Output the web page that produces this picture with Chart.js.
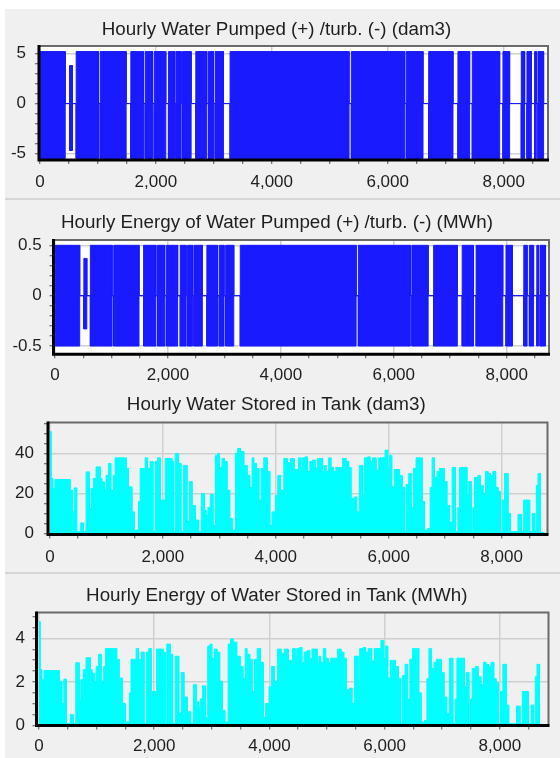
<!DOCTYPE html>
<html>
<head>
<meta charset="utf-8">
<script src="https://cdn.jsdelivr.net/npm/chart.js@4.4.1/dist/chart.umd.min.js"></script>
<style>
  html, body { margin: 0; padding: 0; background: #fff; }
  body { width: 560px; height: 758px; position: relative; overflow: hidden; }
  .panel { position: absolute; left: 5px; width: 555px; background: #f0f0f0; }
  .panel canvas { position: absolute; left: 0; top: 0; }
  .sep { position: absolute; left: 5px; width: 555px; height: 2px; background: #d6d6d6; }
</style>
</head>
<body>
<div class="panel" style="top:9px;height:189px"><canvas id="c1" width="555" height="189"></canvas></div>
<div class="sep" style="top:198px"></div>
<div class="panel" style="top:200px;height:190px"><canvas id="c2" width="555" height="190"></canvas></div>
<div class="panel" style="top:390px;height:182px"><canvas id="c3" width="555" height="182"></canvas></div>
<div class="sep" style="top:572px"></div>
<div class="panel" style="top:574px;height:184px"><canvas id="c4" width="555" height="184"></canvas></div>
<script>
// hours where the pump / turbine regime changes (value holds until the next hour)
const pumpHours = [0, 437, 511, 563, 626, 1011, 1040, 1488, 1569, 1787,
  1816, 1942, 1971, 2172, 2218, 2322, 2345, 2437, 2460, 2609,
  2690, 2879, 2908, 2994, 3023, 3166, 3281, 5333, 5373, 6293,
  6321, 6609, 6707, 7126, 7212, 7413, 7459, 7931, 7988, 8103,
  8304, 8362, 8402, 8477, 8534, 8563, 8591, 8689, 8760];
// upper / lower envelope of the hourly swings
const pumpDam3High = [5.2, 0, 3.8, 0, 5.2, 0, 5.2, 0, 5.2, 0,
  5.2, 0, 5.2, 0, 5.2, 0, 5.2, 0, 5.2, 0,
  5.2, 0, 5.2, 0, 5.2, 0, 5.2, 0, 5.2, 0,
  5.2, 0, 5.2, 0, 5.2, 0, 5.2, 0, 5.2, 0,
  5.2, 0, 5.2, 0, 5.2, 0, 5.2, 0, 0];
const pumpDam3Low = [-5.5, 0, -4.7, 0, -5.5, 0, -5.5, 0, -5.5, 0,
  -5.5, 0, -5.5, 0, -5.5, 0, -5.5, 0, -5.5, 0,
  -5.5, 0, -5.5, 0, -5.5, 0, -5.5, 0, -5.5, 0,
  -5.5, 0, -5.5, 0, -5.5, 0, -5.5, 0, -5.5, 0,
  -5.5, 0, -5.5, 0, -5.5, 0, -5.5, 0, 0];
const pumpMWhHigh = [0.5, 0, 0.37, 0, 0.5, 0, 0.5, 0, 0.5, 0,
  0.5, 0, 0.5, 0, 0.5, 0, 0.5, 0, 0.5, 0,
  0.5, 0, 0.5, 0, 0.5, 0, 0.5, 0, 0.5, 0,
  0.5, 0, 0.5, 0, 0.5, 0, 0.5, 0, 0.5, 0,
  0.5, 0, 0.5, 0, 0.5, 0, 0.5, 0, 0];
const pumpMWhLow = [-0.5, 0, -0.33, 0, -0.5, 0, -0.5, 0, -0.5, 0,
  -0.5, 0, -0.5, 0, -0.5, 0, -0.5, 0, -0.5, 0,
  -0.5, 0, -0.5, 0, -0.5, 0, -0.5, 0, -0.5, 0,
  -0.5, 0, -0.5, 0, -0.5, 0, -0.5, 0, -0.5, 0,
  -0.5, 0, -0.5, 0, -0.5, 0, -0.5, 0, 0];

// tank contents
const storedHours = [0, 18, 47, 89, 355, 396, 432, 473, 544, 592,
  639, 698, 728, 769, 817, 888, 917, 959, 994, 1035,
  1077, 1124, 1154, 1349, 1390, 1450, 1497, 1568, 1598, 1686,
  1728, 1775, 1822, 1864, 1905, 1953, 2041, 2160, 2189, 2219,
  2278, 2319, 2367, 2426, 2473, 2515, 2574, 2633, 2680, 2734,
  2763, 2799, 2840, 2888, 2929, 2970, 3000, 3047, 3089, 3136,
  3183, 3225, 3284, 3325, 3373, 3432, 3491, 3538, 3580, 3609,
  3657, 3698, 3740, 3787, 3846, 3893, 3935, 3994, 4035, 4083,
  4142, 4201, 4260, 4326, 4403, 4444, 4474, 4521, 4562, 4604,
  4651, 4698, 4740, 4829, 4858, 4888, 4935, 4976, 5018, 5065,
  5184, 5243, 5290, 5331, 5391, 5432, 5479, 5539, 5568, 5627,
  5669, 5716, 5775, 5823, 5935, 5982, 6012, 6053, 6101, 6189,
  6237, 6278, 6308, 6355, 6397, 6438, 6485, 6592, 6633, 6692,
  6734, 6769, 6811, 6858, 6899, 6988, 7030, 7077, 7124, 7183,
  7225, 7255, 7385, 7420, 7462, 7491, 7521, 7580, 7621, 7669,
  7716, 7757, 7799, 7846, 7894, 7935, 7976, 8012, 8053, 8112,
  8154, 8290, 8349, 8391, 8497, 8544, 8586, 8615, 8645, 8686,
  8760];
const storedDam3 = [51, 27.5, 22.5, 27, 21.7, 10.8, 22.8, 1, 5.3, 1,
  30.8, 12.5, 22.5, 27.5, 33.3, 27.5, 25.8, 21.7, 29, 35,
  21.7, 29, 37.8, 32.5, 23.3, 10.8, 1.7, 16, 32.5, 37.8,
  32.5, 36, 1, 36, 37.8, 16.7, 37.5, 36, 1, 40,
  35, 1, 34, 6, 26, 14, 6.7, 1, 20, 11.7,
  9, 13, 19.5, 4, 39, 40, 33, 37.5, 36, 21.7,
  7.5, 1.7, 40, 42.5, 41, 34, 29, 23, 37.8, 35,
  32.5, 16.7, 32.5, 37.8, 31, 4, 10.8, 19, 29, 21.7,
  37.5, 35.5, 37.5, 32, 37.8, 33, 37.8, 38.3, 31, 36,
  36.7, 32.8, 37.5, 31, 34, 31, 37.8, 33, 31, 33,
  37.5, 36, 33, 17.5, 18.3, 10.8, 34, 19, 37.8, 38.3,
  36, 37.8, 31.7, 37.8, 41.7, 33, 39, 23.3, 32, 29,
  23, 1, 24.5, 30, 13, 32.5, 37.8, 16, 1.7, 2.5,
  23, 37.8, 28, 31, 32.5, 26, 14, 5.8, 33, 1,
  13, 33, 19, 26, 1, 13, 28, 29, 24, 20,
  31, 30, 29, 31, 23, 21, 1, 16.7, 30, 10,
  1, 9.5, 1, 16.7, 1, 10, 1, 24, 30, 0.5,
  0.5];
const storedMWh = [4.77, 2.57, 2.10, 2.52, 2.03, 1.01, 2.13, 0.09, 0.50, 0.09,
  2.88, 1.17, 2.10, 2.57, 3.11, 2.57, 2.41, 2.03, 2.71, 3.27,
  2.03, 2.71, 3.53, 3.04, 2.18, 1.01, 0.16, 1.50, 3.04, 3.53,
  3.04, 3.37, 0.09, 3.37, 3.53, 1.56, 3.51, 3.37, 0.09, 3.74,
  3.27, 0.09, 3.18, 0.56, 2.43, 1.31, 0.63, 0.09, 1.87, 1.09,
  0.84, 1.22, 1.82, 0.37, 3.65, 3.74, 3.09, 3.51, 3.37, 2.03,
  0.70, 0.16, 3.74, 3.97, 3.83, 3.18, 2.71, 2.15, 3.53, 3.27,
  3.04, 1.56, 3.04, 3.53, 2.90, 0.37, 1.01, 1.78, 2.71, 2.03,
  3.51, 3.32, 3.51, 2.99, 3.53, 3.09, 3.53, 3.58, 2.90, 3.37,
  3.43, 3.07, 3.51, 2.90, 3.18, 2.90, 3.53, 3.09, 2.90, 3.09,
  3.51, 3.37, 3.09, 1.64, 1.71, 1.01, 3.18, 1.78, 3.53, 3.58,
  3.37, 3.53, 2.96, 3.53, 3.90, 3.09, 3.65, 2.18, 2.99, 2.71,
  2.15, 0.09, 2.29, 2.81, 1.22, 3.04, 3.53, 1.50, 0.16, 0.23,
  2.15, 3.53, 2.62, 2.90, 3.04, 2.43, 1.31, 0.54, 3.09, 0.09,
  1.22, 3.09, 1.78, 2.43, 0.09, 1.22, 2.62, 2.71, 2.24, 1.87,
  2.90, 2.81, 2.71, 2.90, 2.15, 1.96, 0.09, 1.56, 2.81, 0.94,
  0.09, 0.89, 0.09, 1.56, 0.09, 0.94, 0.09, 2.24, 2.81, 0.05,
  0.05];

// x axis: tick marks every 500 h, labels every 2000 h
const xTickHours = [0, 500, 1000, 1500, 2000, 2500, 3000, 3500, 4000, 4500,
  5000, 5500, 6000, 6500, 7000, 7500, 8000, 8500];
const xLabelHours = [0, 2000, 4000, 6000, 8000];
const pumpLabels = [-5, 0, 5];
const energyLabels = [-0.5, 0, 0.5];
const waterLabels = [0, 20, 40];
const tankEnergyLabels = [0, 2, 4];

const BLUE = '#1a1aff';
const CYAN = '#00ffff';
const TEXT = '#1e1e1e';
const GRID = '#cfcfcf';
const FONT = '"Liberation Sans", Arial, sans-serif';
const X_AXIS_H = 32;

// value i holds from hour i to hour i+1
function stepPts(xs, ys) {
  const out = [];
  for (let i = 0; i < xs.length; i++) {
    out.push({ x: xs[i], y: ys[i] });
    if (i + 1 < xs.length) out.push({ x: xs[i + 1], y: ys[i] });
  }
  return out;
}

// plot background + frame (black left/bottom axis, grey top/right)
const framePlugin = {
  id: 'frame',
  beforeDraw(chart, args, opts) {
    const { ctx, chartArea: a } = chart;
    ctx.save();
    ctx.fillStyle = opts.bg;
    ctx.fillRect(a.left, a.top, a.right - a.left, a.bottom - a.top);
    ctx.restore();
  },
  afterDraw(chart) {
    const { ctx, chartArea: a } = chart;
    ctx.save();
    ctx.strokeStyle = '#6a6a6a';
    ctx.lineWidth = 2;
    ctx.beginPath();
    ctx.moveTo(a.left, a.top);
    ctx.lineTo(a.right, a.top);
    ctx.lineTo(a.right, a.bottom);
    ctx.stroke();
    ctx.strokeStyle = '#000';
    ctx.lineWidth = 3;
    ctx.beginPath();
    ctx.moveTo(a.left, a.top - 1);
    ctx.lineTo(a.left, a.bottom);
    ctx.lineTo(a.right + 1, a.bottom);
    ctx.stroke();
    ctx.restore();
  }
};

function buildChart(p) {
  const canvas = document.getElementById(p.id);
  const W = canvas.width, H = canvas.height;
  const isLabel = v => p.yLabels.some(l => Math.abs(l - v) < 1e-6);
  const fmtY = v => (Math.abs(v) < 1e-9 ? '0' : String(+v.toFixed(1)));
  const fmtX = v => String(v).replace(/\B(?=(\d{3})+(?!\d))/g, ',');
  const isXLabel = v => xLabelHours.indexOf(v) !== -1;

  return new Chart(canvas, {
    type: 'line',
    data: { datasets: p.datasets },
    options: {
      responsive: false,
      animation: false,
      devicePixelRatio: 1,
      events: [],
      layout: {
        padding: { left: 0, top: 0, right: W - p.area.right, bottom: H - p.area.bottom - X_AXIS_H }
      },
      elements: {
        point: { radius: 0 },
        line: { tension: 0, borderWidth: 1 }
      },
      plugins: {
        legend: { display: false },
        tooltip: { enabled: false },
        title: {
          display: true,
          text: p.title,
          color: TEXT,
          font: { family: FONT, size: 18.8, weight: 'normal', lineHeight: 1.2 },
          padding: p.titlePad
        },
        frame: { bg: p.bg }
      },
      scales: {
        x: {
          type: 'linear',
          min: p.xMin,
          max: p.xMax,
          afterBuildTicks: s => { s.ticks = xTickHours.map(v => ({ value: v })); },
          afterFit: s => { s.height = X_AXIS_H; },
          border: { display: false },
          grid: {
            color: c => (c.tick && isXLabel(c.tick.value)) ? GRID : 'rgba(0,0,0,0)',
            lineWidth: 1.5,
            tickLength: 4,
            tickColor: '#505050',
            tickWidth: 1
          },
          ticks: {
            autoSkip: false,
            maxRotation: 0,
            padding: p.xPad,
            color: TEXT,
            font: { family: FONT, size: 17 },
            callback: v => (isXLabel(v) ? fmtX(v) : '')
          }
        },
        y: {
          min: p.yMin,
          max: p.yMax,
          afterFit: s => { s.width = p.area.left; },
          border: { display: false },
          grid: {
            color: c => (c.tick && isLabel(c.tick.value)) ? GRID : 'rgba(0,0,0,0)',
            lineWidth: 1.5,
            tickLength: 4,
            tickColor: '#505050',
            tickWidth: 1
          },
          ticks: {
            stepSize: p.yStep,
            autoSkip: false,
            includeBounds: false,
            padding: p.yPad,
            color: TEXT,
            font: { family: FONT, size: 17 },
            callback: v => (isLabel(v) ? fmtY(v) : '')
          }
        }
      }
    },
    plugins: [framePlugin]
  });
}

buildChart({
  id: 'c1',
  title: 'Hourly Water Pumped (+) /turb. (-) (dam3)',
  area: { left: 34, right: 543, top: 37, bottom: 151 },
  titlePad: { top: 9.5, bottom: 5 },
  xMin: -15, xMax: 8765, xPad: 8.5,
  yMin: -5.65, yMax: 5.75, yStep: 1, yLabels: pumpLabels, yPad: 9,
  bg: '#ffffff',
  datasets: [
    { data: stepPts(pumpHours, pumpDam3High), borderColor: BLUE, backgroundColor: BLUE, fill: '+1' },
    { data: stepPts(pumpHours, pumpDam3Low), borderColor: BLUE, backgroundColor: BLUE, fill: false }
  ]
});

buildChart({
  id: 'c2',
  title: 'Hourly Energy of Water Pumped (+) /turb. (-) (MWh)',
  area: { left: 48.5, right: 544, top: 40, bottom: 154.3 },
  titlePad: { top: 11.4, bottom: 6 },
  xMin: -27, xMax: 8750, xPad: 7,
  yMin: -0.582, yMax: 0.553, yStep: 0.1, yLabels: energyLabels, yPad: 7.8,
  bg: '#ffffff',
  datasets: [
    { data: stepPts(pumpHours, pumpMWhHigh), borderColor: BLUE, backgroundColor: BLUE, fill: '+1' },
    { data: stepPts(pumpHours, pumpMWhLow), borderColor: BLUE, backgroundColor: BLUE, fill: false }
  ]
});

buildChart({
  id: 'c3',
  title: 'Hourly Water Stored in Tank (dam3)',
  area: { left: 43, right: 542.5, top: 32.5, bottom: 144.5 },
  titlePad: { top: 3.7, bottom: 6.2 },
  xMin: -35, xMax: 8813, xPad: 8.5,
  yMin: -0.5, yMax: 55.5, yStep: 5, yLabels: waterLabels, yPad: 10,
  bg: '#f0f0f0',
  datasets: [
    { data: stepPts(storedHours, storedDam3), borderColor: CYAN, backgroundColor: CYAN, fill: 'origin' }
  ]
});

buildChart({
  id: 'c4',
  title: 'Hourly Energy of Water Stored in Tank (MWh)',
  area: { left: 31.5, right: 543.5, top: 38.5, bottom: 151.5 },
  titlePad: { top: 10.7, bottom: 5.2 },
  xMin: -43, xMax: 8845, xPad: 7,
  yMin: 0, yMax: 5.19, yStep: 0.5, yLabels: tankEnergyLabels, yPad: 7.5,
  bg: '#f0f0f0',
  datasets: [
    { data: stepPts(storedHours, storedMWh), borderColor: CYAN, backgroundColor: CYAN, fill: 'origin' }
  ]
});
</script>
</body>
</html>
